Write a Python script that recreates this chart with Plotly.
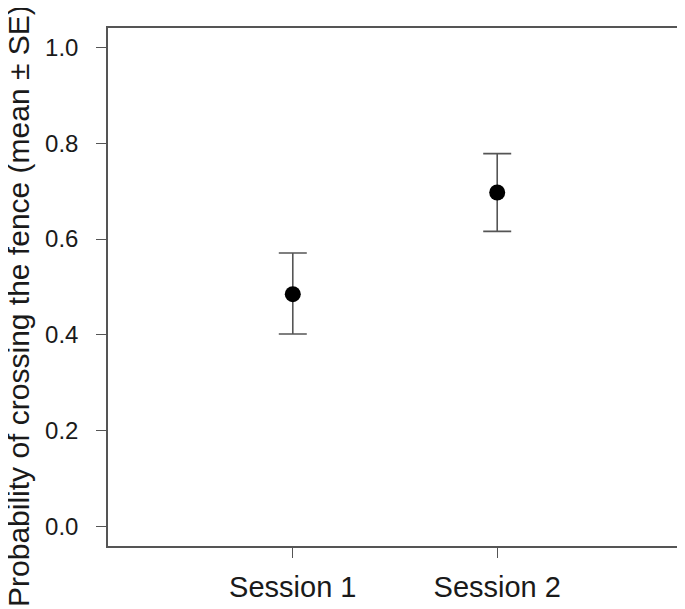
import plotly.graph_objects as go

# data
sessions = ["Session 1", "Session 2"]
x_pos = [1, 2]
mean = [0.485, 0.697]
upper = [0.571, 0.778]
lower = [0.402, 0.616]

y_ticks = [0.0, 0.2, 0.4, 0.6, 0.8, 1.0]

err_up = [u - m for u, m in zip(upper, mean)]
err_down = [m - l for m, l in zip(mean, lower)]

FONT = "Liberation Sans, Arial, sans-serif"
AXIS_COL = "#555555"
TEXT_COL = "#1a1a1a"

fig = go.Figure()
fig.add_trace(go.Scatter(
    x=x_pos, y=mean,
    mode="markers",
    marker=dict(color="black", size=16),
    error_y=dict(type="data", symmetric=False, array=err_up, arrayminus=err_down,
                 color=AXIS_COL, thickness=1.6, width=14),
    showlegend=False,
))

# page seems offset by ~7px, margins compensate for it
fig.update_layout(
    template="none",
    width=685, height=609,
    margin=dict(l=100, r=10.5, t=19.5, b=71, pad=0),
    paper_bgcolor="white", plot_bgcolor="white",
    font=dict(family=FONT, color=TEXT_COL),
)
fig.update_xaxes(
    range=[0.096, 2.904], tickvals=x_pos, ticktext=sessions, automargin=False,
    showgrid=False, zeroline=False,
    showline=True, mirror=True, linecolor=AXIS_COL, linewidth=1.5,
    ticks="outside", ticklen=10, tickcolor=AXIS_COL, tickwidth=1.2,
    tickfont=dict(size=29, family=FONT, color=TEXT_COL), ticklabelstandoff=4,
)
fig.update_yaxes(
    range=[-0.04, 1.04], tickvals=y_ticks, tickformat=".1f", automargin=False,
    showgrid=False, zeroline=False,
    showline=True, mirror=True, linecolor=AXIS_COL, linewidth=1.5,
    ticks="outside", ticklen=10, tickcolor=AXIS_COL, tickwidth=1.2,
    tickfont=dict(size=24, family=FONT, color=TEXT_COL), ticklabelstandoff=13,
)
fig.add_annotation(
    text="Probability of crossing the fence (mean ± SE)",
    xref="paper", yref="paper", x=-0.155, y=-0.1215,
    xanchor="center", yanchor="bottom", textangle=-90, showarrow=False,
    font=dict(size=30, family=FONT, color=TEXT_COL),
)

fig.write_html("out.html")
